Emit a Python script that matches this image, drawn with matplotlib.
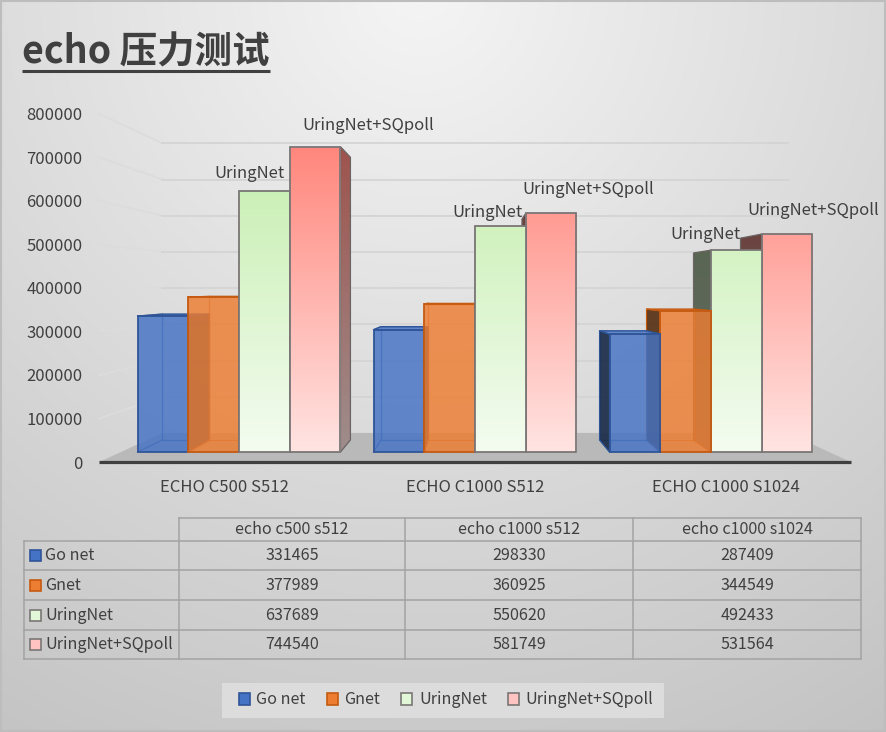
import numpy as np
import matplotlib
matplotlib.use("Agg")
import matplotlib.pyplot as plt
from matplotlib.patches import Polygon, Rectangle, Patch
from matplotlib.colors import to_rgb

plt.rcParams['font.family'] = ['Noto Sans CJK SC', 'DejaVu Sans']

# ---- data ----
title = "echo 压力测试"
categories = ["ECHO C500 S512", "ECHO C1000 S512", "ECHO C1000 S1024"]
table_headers = ["echo c500 s512", "echo c1000 s512", "echo c1000 s1024"]
series_names = ["Go net", "Gnet", "UringNet", "UringNet+SQpoll"]
go_net = [331465, 298330, 287409]
gnet = [377989, 360925, 344549]
uringnet = [637689, 550620, 492433]
uringnet_sqpoll = [744540, 581749, 531564]
y_ticks = [0, 100000, 200000, 300000, 400000, 500000, 600000, 700000, 800000]

values = [go_net, gnet, uringnet, uringnet_sqpoll]

# ---- style ----
TXT = '#404040'
top_cols = ['#4472c4', '#ed7d31', '#c4eead', '#ff867c']
bot_cols = ['#4472c4', '#ed7d31', '#f4fcf0', '#ffe4e2']
edge_cols = ['#2f5597', '#c55a11', '#7a7676', '#7a7676']
key_cols = ['#4472c4', '#ed7d31', '#e2f6d8', '#ffc4c2']
see_through = [True, True, False, False]
# data label offsets in points (only the two last series carry labels)
label_off = {2: [(-11, 12), (-9, 10), (-22, 11)],
             3: [(38, 15), (27, 17), (19, 17)]}

W, H, DPI = 886, 732, 100
fig = plt.figure(figsize=(W / DPI, H / DPI), dpi=DPI)


def fx(px):
    return px / W


def fy(py):
    return 1 - py / H


# background gradient + frame
bg = fig.add_axes([0, 0, 1, 1], zorder=-10)
yy, xx = np.mgrid[0:H, 0:W]
shade = np.clip(0.96 - 0.000225 * np.hypot(xx - 420, yy + 10), 0, 1)
bg.imshow(np.dstack([shade] * 3), extent=(0, W, H, 0), aspect='auto')
bg.set_xlim(0, W)
bg.set_ylim(H, 0)
bg.axis('off')
bg.add_patch(Rectangle((1, 1), W - 2, H - 2, fill=False, ec='#bdbdbd', lw=1.5))

# ---- main 3D-ish plot area ----
CAT_PX, VAL_PX = 236.0, 0.00041   # px per category / per value unit on bar front plane
X1_PX, Y0_PX = 475.0, 452.0        # px of category 1 / value 0
L, R, T, B = 88, 882, 88, 482
ax = fig.add_axes([fx(L), fy(B), (R - L) / W, (B - T) / H])
XLIM = (1 + (L - X1_PX) / CAT_PX, 1 + (R - X1_PX) / CAT_PX)
YLIM = ((Y0_PX - B) / VAL_PX, (Y0_PX - T) / VAL_PX)

VP = (1.0, (Y0_PX - 289) / VAL_PX)   # vanishing point
R_BACK, R_FRONT, R_WALL = 0.926, 1.0616, 0.883


def proj(x, y, r):
    return (VP[0] + r * (x - VP[0]), VP[1] + r * (y - VP[1]))


def grad(patch, c_top, c_bot, z, dark=1.0):
    t = np.linspace(0, 1, 120)[:, None, None]
    top = np.array(to_rgb(c_top)) * dark
    bot = np.array(to_rgb(c_bot)) * dark
    img = bot + (top - bot) * t
    im = ax.imshow(img, extent=(XLIM[0], XLIM[1], 0, 750000), origin='lower',
                   aspect='auto', interpolation='bilinear', zorder=z)
    im.set_clip_path(patch)


# gridlines on side wall and back wall
for v in y_ticks[1:]:
    p0, p1, p2 = proj(-0.5, v, R_FRONT), proj(-0.5, v, R_WALL), proj(2.5, v, R_WALL)
    ax.plot([p0[0], p1[0]], [p0[1], p1[1]], color='#dcdcdc', lw=1.2, zorder=1)
    ax.plot([p1[0], p2[0]], [p1[1], p2[1]], color='#d4d4d4', lw=1.3, zorder=1)

# floor
floor = [proj(-0.5, 0, R_FRONT), proj(2.5, 0, R_FRONT), proj(2.5, 0, R_WALL), proj(-0.5, 0, R_WALL)]
ax.add_patch(Polygon(floor, closed=True, fc='#b9b9b9', ec='none', zorder=1.5))
ax.plot([floor[0][0], floor[1][0]], [floor[0][1], floor[1][1]], color='#3f3f3f',
        lw=2.3, solid_capstyle='butt', zorder=2)

W_BAR = 0.215
bars = []
for i, vals in enumerate(values):
    if see_through[i]:
        fc = to_rgb(top_cols[i]) + (0.82,)
    else:
        fc = 'none'
    bars.append(ax.bar(np.arange(len(categories)) + (i - 1.5) * W_BAR, vals, width=W_BAR,
                       facecolor=fc, edgecolor=edge_cols[i], linewidth=1.3))

for g in range(len(categories)):
    order = sorted(range(len(values)),
                   key=lambda i: -abs(bars[i][g].get_x() + W_BAR / 2 - VP[0]))
    for rank, i in enumerate(order):
        z = 3 + rank * 5
        rect = bars[i][g]
        x0, v = rect.get_x(), rect.get_height()
        x1 = x0 + W_BAR
        fl, fr, tl, tr = (x0, 0), (x1, 0), (x0, v), (x1, v)

        def b(p):
            return proj(p[0], p[1], R_BACK)

        if see_through[i]:
            back = Polygon([b(fl), b(fr), b(tr), b(tl)], closed=True, fc='none',
                           ec=edge_cols[i], lw=0.9, alpha=0.7, zorder=z)
            ax.add_patch(back)
            for p in (fl, fr, tl, tr):
                q = b(p)
                ax.plot([p[0], q[0]], [p[1], q[1]], color=edge_cols[i], lw=0.9,
                        alpha=0.7, zorder=z)

        side, dark = None, 1.0
        if x1 <= VP[0] + 1e-9:
            side, dark = [fr, tr, b(tr), b(fr)], 0.62
        elif x0 >= VP[0] - 1e-9:
            side, dark = [fl, tl, b(tl), b(fl)], 0.42
        if side is not None:
            if see_through[i]:
                c = np.array(to_rgb(top_cols[i])) * dark * 0.85
                ax.add_patch(Polygon(side, closed=True, fc=tuple(c) + (0.9,),
                                     ec=edge_cols[i], lw=0.9, zorder=z + 1))
            else:
                sp = Polygon(side, closed=True, fc='none', ec='#6a6464', lw=0.9, zorder=z + 1.5)
                ax.add_patch(sp)
                grad(sp, top_cols[i], bot_cols[i], z + 1, dark)

        if v < VP[1]:
            c = np.array(to_rgb(top_cols[i])) * 0.9 + 0.1
            ax.add_patch(Polygon([tl, tr, b(tr), b(tl)], closed=True, fc=tuple(c) + (0.9,),
                                 ec=edge_cols[i], lw=1.0, zorder=z + 2))

        rect.set_zorder(z + 3.5)
        if not see_through[i]:
            grad(rect, top_cols[i], bot_cols[i], z + 3)

# data labels
for i, offs in label_off.items():
    for g, (dx, dy) in enumerate(offs):
        rect = bars[i][g]
        ax.annotate(series_names[i], (rect.get_x() + W_BAR / 2, rect.get_height()),
                    xytext=(dx, dy), textcoords='offset points', ha='center', va='center',
                    fontsize=12, color=TXT, zorder=60, annotation_clip=False)

# category labels
for g, name in enumerate(categories):
    ax.annotate(name, proj(g, 0, R_FRONT), xytext=(0, -18), textcoords='offset points',
                ha='center', va='center', fontsize=12, color=TXT, annotation_clip=False)

ax.set_yticks([proj(0, v, R_FRONT)[1] for v in y_ticks], labels=[str(v) for v in y_ticks])
ax.tick_params(axis='y', length=0, pad=4, labelsize=12, labelcolor=TXT)
ax.set_xticks([])
for s in ax.spines.values():
    s.set_visible(False)
ax.set_facecolor('none')
ax.set_xlim(*XLIM)
ax.set_ylim(*YLIM)

# ---- data table ----
FS_TAB = 11.6
ov = fig.add_axes([0, 0, 1, 1], zorder=5)
ov.set_xlim(0, W)
ov.set_ylim(H, 0)
ov.axis('off')
col_x = [24, 179, 405, 633, 861]
row_y = [518, 541, 570, 600, 630, 659]
GRID = '#a3a3a3'
ov.plot([col_x[1], col_x[-1]], [row_y[0]] * 2, color=GRID, lw=1.1)
for y in row_y[1:]:
    ov.plot([col_x[0], col_x[-1]], [y, y], color=GRID, lw=1.1)
ov.plot([col_x[0]] * 2, [row_y[1], row_y[-1]], color=GRID, lw=1.1)
for x in col_x[1:]:
    ov.plot([x, x], [row_y[0], row_y[-1]], color=GRID, lw=1.1)

for g, head in enumerate(table_headers):
    ov.text((col_x[g + 1] + col_x[g + 2]) / 2, (row_y[0] + row_y[1]) / 2, head,
            ha='center', va='center', fontsize=FS_TAB, color=TXT)
for i, name in enumerate(series_names):
    yc = (row_y[i + 1] + row_y[i + 2]) / 2
    ov.add_patch(Rectangle((30, yc - 5.5), 11, 11, fc=key_cols[i], ec=edge_cols[i], lw=1.2))
    ov.text(45, yc, name, ha='left', va='center', fontsize=FS_TAB, color=TXT)
    for g in range(len(categories)):
        ov.text((col_x[g + 1] + col_x[g + 2]) / 2, yc, str(values[i][g]),
                ha='center', va='center', fontsize=FS_TAB, color=TXT)

# ---- legend ----
ov.add_patch(Rectangle((222, 683), 442, 35, fc='#dcdcdc', ec='none', zorder=0))
handles = [Patch(facecolor=key_cols[i], edgecolor=edge_cols[i], lw=1.2, label=n)
           for i, n in enumerate(series_names)]
fig.legend(handles=handles, loc='center', bbox_to_anchor=(fx(446), fy(700)), ncol=4,
           frameon=False, fontsize=FS_TAB, labelcolor=TXT, handlelength=0.7,
           handleheight=0.7, handletextpad=0.4, columnspacing=1.3, borderpad=0.5)

# ---- title ----
t = fig.text(fx(22), fy(63), title, fontsize=27, fontweight='bold', color=TXT,
             ha='left', va='baseline')
fig.canvas.draw()
bb = t.get_window_extent()
ov.plot([bb.x0, bb.x1], [70.5, 70.5], color=TXT, lw=2.2, solid_capstyle='butt')

fig.savefig('out.png', dpi=DPI)
